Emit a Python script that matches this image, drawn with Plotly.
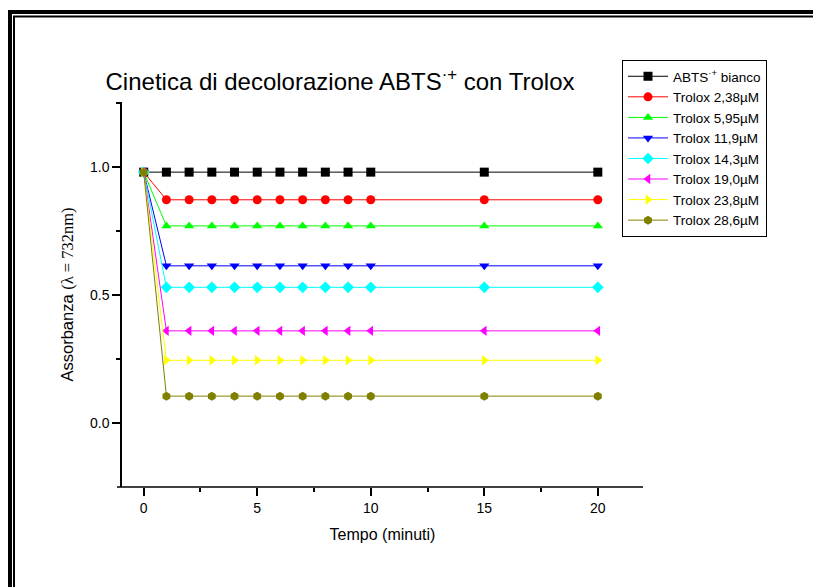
import plotly.graph_objects as go

# ---- data ----
time_min = [0, 1, 2, 3, 4, 5, 6, 7, 8, 9, 10, 15, 20]
series_names = [
    "ABTS<sup>·+</sup> bianco",
    "Trolox 2,38µM",
    "Trolox 5,95µM",
    "Trolox 11,9µM",
    "Trolox 14,3µM",
    "Trolox 19,0µM",
    "Trolox 23,8µM",
    "Trolox 28,6µM",
]
start_abs = 0.98
plateau_abs = [0.98, 0.872, 0.770, 0.614, 0.530, 0.360, 0.245, 0.105]
n_after = len(time_min) - 1

colors = ["#000000", "#FF0000", "#00FF00", "#0000FF", "#00FFFF", "#FF00FF", "#FFFF00", "#808000"]
symbols = ["square", "circle", "triangle-up", "triangle-down", "diamond",
           "triangle-left", "triangle-right", "hexagon"]

W, H = 813, 587
L, R, T, B = 122, 643, 102, 487

fig = go.Figure()
for name, plat, c, s in zip(series_names, plateau_abs, colors, symbols):
    y = [start_abs] + [plat] * n_after
    fig.add_trace(go.Scatter(
        x=time_min, y=y, name=name, mode="lines+markers",
        line=dict(color=c, width=1),
        marker=dict(symbol=s, color=c, size=9, line=dict(width=0)),
    ))

def px_x(px):
    return (px - L) / (R - L)

def px_y(py):
    return (B - py) / (B - T)

shapes = []
# decorative double frame
shapes.append(dict(type="line", xref="paper", yref="paper",
                   x0=px_x(10), x1=px_x(10), y0=px_y(10), y1=px_y(600),
                   line=dict(color="black", width=4)))
shapes.append(dict(type="line", xref="paper", yref="paper",
                   x0=px_x(8), x1=px_x(820), y0=px_y(12), y1=px_y(12),
                   line=dict(color="black", width=4)))
shapes.append(dict(type="line", xref="paper", yref="paper",
                   x0=px_x(14), x1=px_x(14), y0=px_y(16), y1=px_y(600),
                   line=dict(color="black", width=2)))
shapes.append(dict(type="line", xref="paper", yref="paper",
                   x0=px_x(13), x1=px_x(820), y0=px_y(16.5), y1=px_y(16.5),
                   line=dict(color="black", width=2)))
# x axis line extending slightly left of y axis
shapes.append(dict(type="line", xref="paper", yref="paper",
                   x0=px_x(117), x1=1, y0=0, y1=0,
                   line=dict(color="black", width=1.5)))

font_family = "Liberation Sans, Arial, sans-serif"

fig.update_layout(
    width=W, height=H,
    margin=dict(l=L, r=W - R, t=T, b=H - B, pad=0),
    paper_bgcolor="white", plot_bgcolor="white",
    font=dict(family=font_family, size=14, color="black"),
    title=dict(text="Cinetica di decolorazione ABTS<sup>·+</sup> con Trolox",
               x=340 / W, xanchor="center", y=1 - 82 / H, yanchor="middle",
               font=dict(size=24, family=font_family)),
    showlegend=True,
    legend=dict(x=px_x(622), y=px_y(60), xanchor="left", yanchor="top",
                bordercolor="black", borderwidth=1, bgcolor="white",
                font=dict(size=13.5, family=font_family),
                itemwidth=40, tracegroupgap=0),
    shapes=shapes,
    xaxis=dict(range=[-0.956, 21.99], showgrid=False, zeroline=False,
               showline=False, tickmode="array", tickvals=[0, 5, 10, 15, 20],
               ticks="outside", ticklen=8, tickwidth=1.5, tickcolor="black",
               minor=dict(tickvals=[2.5, 7.5, 12.5, 17.5], ticks="outside",
                          ticklen=4, tickwidth=1.5, tickcolor="black"),
               tickfont=dict(size=14),
               title=dict(text="Tempo (minuti)", font=dict(size=16), standoff=14)),
    yaxis=dict(range=[-0.25, 1.254], showgrid=False, zeroline=False,
               showline=True, linecolor="black", linewidth=1.5,
               tickmode="array", tickvals=[0.0, 0.5, 1.0], ticktext=["0.0", "0.5", "1.0"],
               ticks="outside", ticklen=8, tickwidth=1.5, tickcolor="black",
               minor=dict(tickvals=[0.25, 0.75, 1.25], ticks="outside",
                          ticklen=4, tickwidth=1.5, tickcolor="black"),
               tickfont=dict(size=14),
               title=dict(text="Assorbanza <span style=\"font-family:'Liberation Serif','Times New Roman',serif\">(λ = 732nm)</span>",
                          font=dict(size=16.5), standoff=12)),
)

fig.write_html("out.html", config={"displayModeBar": False},
               post_script="document.body.style.margin='0';document.body.style.overflow='hidden';")
